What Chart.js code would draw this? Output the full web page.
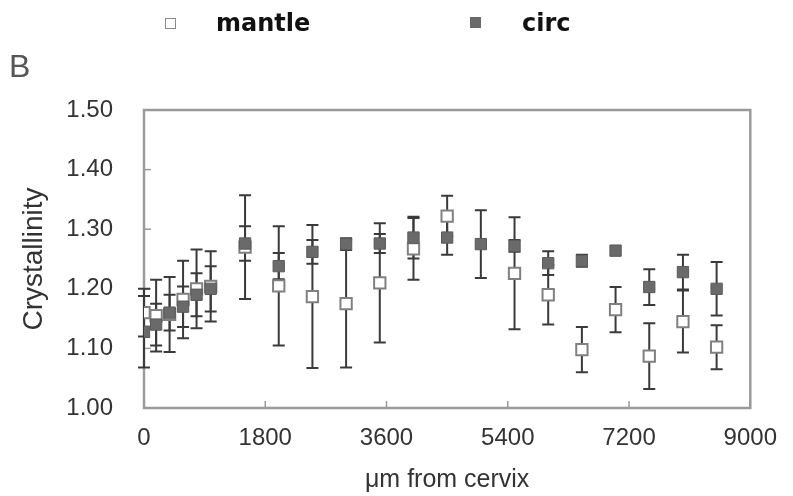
<!DOCTYPE html>
<html>
<head>
<meta charset="utf-8">
<script src="https://cdn.jsdelivr.net/npm/chart.js@4.4.1/dist/chart.umd.min.js"></script>
<style>
  html, body { margin: 0; padding: 0; background: #fff; }
  #wrap { position: relative; width: 793px; height: 496px; }
  #myChart { position: absolute; left: 0; top: 0; }
  .lbl { position: absolute; white-space: nowrap; }
  .legtext { font: bold 24px "DejaVu Sans", sans-serif; color: #111; }
  .mk { position: absolute; width: 9px; height: 9px; }
</style>
</head>
<body>
<div id="wrap">
  <canvas id="myChart" width="793" height="496"></canvas>
  <div class="mk" style="left:165px; top:18px; border:1.5px solid #8a8a8a; background:#fff;"></div>
  <div class="lbl legtext" style="left:216px; top:9px;">mantle</div>
  <div class="mk" style="left:470px; top:17px; width:11px; height:11px; background:#6a6a6a;"></div>
  <div class="lbl legtext" style="left:522px; top:9px;">circ</div>
  <div class="lbl" style="left:9px; top:48px; font: 32px 'Liberation Sans', Arial, sans-serif; color:#555;">B</div>
</div>
<script>
  // distance from cervix (µm)
  const distance = [0, 180, 380, 580, 780, 990, 1500, 2000, 2500, 3000, 3500, 4000, 4500, 5000, 5500, 6000, 6500, 7000, 7500, 8000, 8500];

  const mantleVals = [1.16, 1.155, 1.157, 1.182, 1.20, 1.204, 1.27, 1.205, 1.187, 1.175, 1.21, 1.267, 1.322, null, 1.226, 1.19, 1.098, 1.165, 1.087, 1.145, 1.102];
  const mantleErr  = [0.04, 0.06, 0.063, 0.065, 0.066, 0.059, 0.087, 0.10, 0.12, 0.107, 0.10, 0.052, 0.034, null, 0.094, 0.05, 0.038, 0.038, 0.055, 0.052, 0.037];

  const circVals = [1.128, 1.14, 1.16, 1.17, 1.19, 1.20, 1.276, 1.238, 1.262, 1.275, 1.276, 1.286, 1.286, 1.275, 1.272, 1.243, 1.247, 1.264, 1.203, 1.228, 1.20];
  const circErr  = [0.06, 0.035, 0.03, 0.034, 0.036, 0.038, 0.029, 0.022, 0.02, 0.01, 0.016, 0.035, 0.029, 0.057, 0.01, 0.02, 0.01, 0, 0.03, 0.029, 0.045];

  const xTicks = [0, 1800, 3600, 5400, 7200, 9000];
  const yTicks = [1.00, 1.10, 1.20, 1.30, 1.40, 1.50];

  function points(vals) {
    const out = [];
    distance.forEach((d, i) => { if (vals[i] != null) out.push({ x: d, y: vals[i] }); });
    return out;
  }

  const frameAndErrors = {
    id: 'frameAndErrors',
    beforeDatasetsDraw(chart) {
      const { ctx, chartArea: a, scales: { x, y } } = chart;
      ctx.save();
      // plot frame
      ctx.strokeStyle = '#9a9a9a';
      ctx.lineWidth = 2.5;
      ctx.strokeRect(a.left, a.top, a.right - a.left, a.bottom - a.top);
      // inward tick marks
      ctx.lineWidth = 1.5;
      yTicks.forEach(v => {
        const py = y.getPixelForValue(v);
        ctx.beginPath(); ctx.moveTo(a.left, py); ctx.lineTo(a.left + 7, py); ctx.stroke();
      });
      xTicks.forEach(v => {
        const px = x.getPixelForValue(v);
        ctx.beginPath(); ctx.moveTo(px, a.bottom); ctx.lineTo(px, a.bottom - 7); ctx.stroke();
      });
      // error bars
      ctx.strokeStyle = '#3a3a3a';
      ctx.lineWidth = 2;
      [[mantleVals, mantleErr], [circVals, circErr]].forEach(([vals, errs]) => {
        distance.forEach((d, i) => {
          if (vals[i] == null || !errs[i]) return;
          const px = x.getPixelForValue(d);
          const top = y.getPixelForValue(vals[i] + errs[i]);
          const bot = y.getPixelForValue(vals[i] - errs[i]);
          ctx.beginPath();
          ctx.moveTo(px, top); ctx.lineTo(px, bot);
          ctx.moveTo(px - 6, top); ctx.lineTo(px + 6, top);
          ctx.moveTo(px - 6, bot); ctx.lineTo(px + 6, bot);
          ctx.stroke();
        });
      });
      ctx.restore();
    }
  };

  const ctx = document.getElementById('myChart');

  new Chart(ctx, {
    type: 'scatter',
    data: {
      datasets: [{
        label: 'mantle',
        data: points(mantleVals),
        pointStyle: 'rect',
        pointRadius: 8,
        pointBackgroundColor: '#ffffff',
        pointBorderColor: '#808080',
        pointBorderWidth: 2,
        order: 2
      }, {
        label: 'circ',
        data: points(circVals),
        pointStyle: 'rect',
        pointRadius: 8,
        pointBackgroundColor: '#6a6a6a',
        pointBorderColor: '#5a5a5a',
        pointBorderWidth: 1,
        order: 1
      }]
    },
    options: {
      responsive: false,
      animation: false,
      layout: { padding: { top: 110, right: 31, bottom: 0, left: 0 } },
      plugins: {
        legend: { display: false },
        tooltip: { enabled: false }
      },
      scales: {
        x: {
          type: 'linear',
          min: 0,
          max: 9000,
          afterFit: s => { s.height = 88; },
          afterBuildTicks: s => { s.ticks = xTicks.map(v => ({ value: v })); },
          grid: { display: false, drawTicks: false },
          border: { display: false },
          ticks: {
            autoSkip: false,
            maxRotation: 0,
            padding: 16,
            color: '#333',
            callback: v => String(v),
            font: { family: "'Liberation Sans', Arial, sans-serif", size: 24 }
          },
          title: {
            display: true,
            text: 'μm from cervix',
            color: '#333',
            padding: { top: 0, bottom: 1 },
            font: { family: "'Liberation Sans', Arial, sans-serif", size: 25 }
          }
        },
        y: {
          min: 1.0,
          max: 1.5,
          afterFit: s => { s.width = 144; },
          afterBuildTicks: s => { s.ticks = yTicks.map(v => ({ value: v })); },
          grid: { display: false, drawTicks: false },
          border: { display: false },
          ticks: {
            padding: 31,
            color: '#333',
            callback: v => v.toFixed(2),
            font: { family: "'Liberation Sans', Arial, sans-serif", size: 24 }
          },
          title: {
            display: true,
            text: 'Crystallinity',
            color: '#333',
            padding: { top: 17, bottom: 0 },
            font: { family: "'Liberation Sans', Arial, sans-serif", size: 28 }
          }
        }
      }
    },
    plugins: [frameAndErrors]
  });
</script>
</body>
</html>
